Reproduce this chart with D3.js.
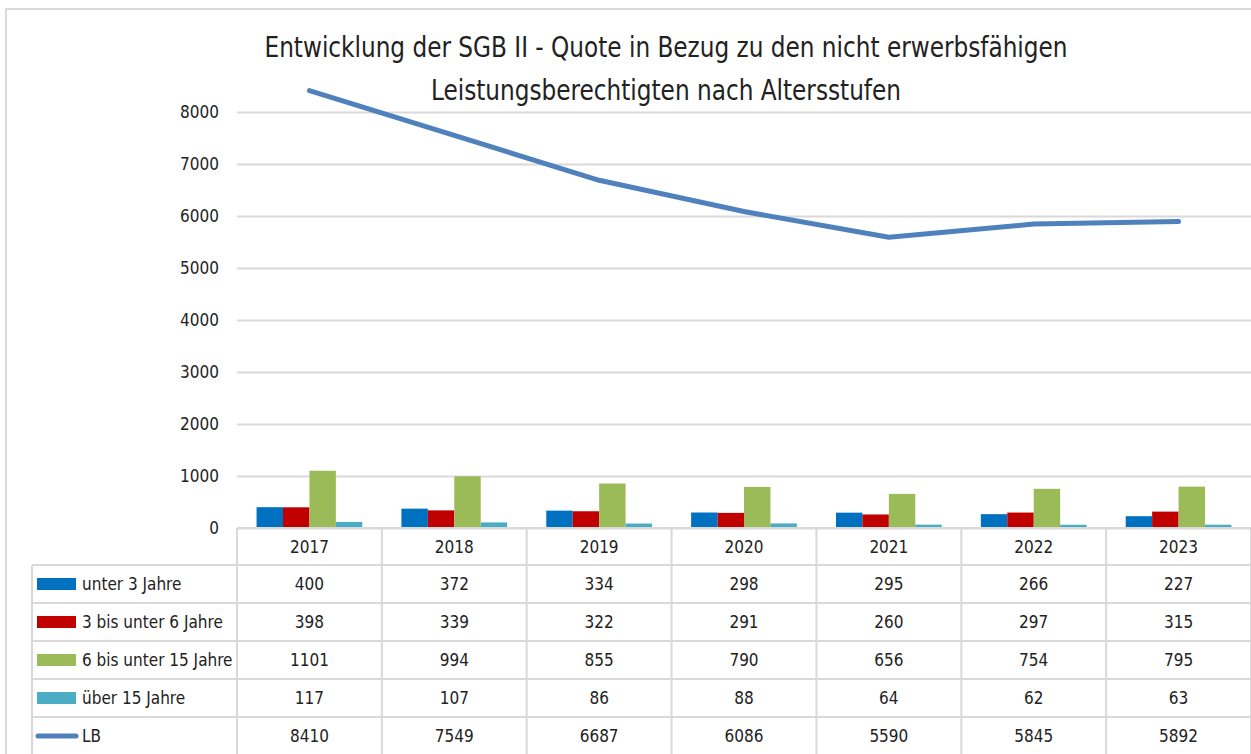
<!DOCTYPE html>
<html lang="de">
<head>
<meta charset="utf-8">
<title>Entwicklung der SGB II - Quote</title>
<script src="https://cdn.jsdelivr.net/npm/d3@7"></script>
<style>
    body { margin: 0; background: #fff; }
    svg text { font-family: "Liberation Sans Narrow", "DejaVu Sans Condensed", sans-serif; fill: #222; }
    .grid line { stroke: #d9d9d9; stroke-width: 2; }
    .grid text { font-size: 17px; }
</style>
</head>
<body>
<script>
// chart values
var years = ["2017", "2018", "2019", "2020", "2021", "2022", "2023"];
var barSeries = ["unter 3 Jahre", "3 bis unter 6 Jahre", "6 bis unter 15 Jahre", "über 15 Jahre"];
var unter3 = [400, 372, 334, 298, 295, 266, 227];
var von3bis6 = [398, 339, 322, 291, 260, 297, 315];
var von6bis15 = [1101, 994, 855, 790, 656, 754, 795];
var ueber15 = [117, 107, 86, 88, 64, 62, 63];
var lb = [8410, 7549, 6687, 6086, 5590, 5845, 5892];
var yTicks = [0, 1000, 2000, 3000, 4000, 5000, 6000, 7000, 8000];

var barColors = ["#0070c0", "#c00000", "#9bbb59", "#4bacc6"];
var lineColor = "#4f81bd";
var barValues = [unter3, von3bis6, von6bis15, ueber15];

var W = 1251, H = 754;
var left = 237, right = 1251, top = 90, baseY = 528;
var rowH = 38, labelX = 32;

var svg = d3.select("body").append("svg")
    .attr("width", W)
    .attr("height", H);

// outer frame
svg.append("rect")
    .attr("x", 6).attr("y", 9)
    .attr("width", W + 10).attr("height", H + 10)
    .attr("fill", "none")
    .attr("stroke", "#d9d9d9")
    .attr("stroke-width", 2);

// scales
var x = d3.scaleBand().domain(years).range([left, right]);
var xInner = d3.scaleBand().domain(d3.range(4))
    .range([0, x.bandwidth()])
    .paddingOuter(0.74).paddingInner(0);
var y = d3.scaleLinear().domain([0, 8000]).range([baseY, baseY - 8000 * 0.052]);

// gridlines + y labels
var yAxis = d3.axisLeft(y)
    .tickValues(yTicks)
    .tickSize(-(right - left))
    .tickPadding(18)
    .tickFormat(d3.format("d"));

svg.append("g")
    .attr("class", "grid")
    .attr("transform", "translate(" + left + ",0)")
    .call(yAxis)
    .call(function(g) { g.select(".domain").remove(); });

// bars
var groups = svg.selectAll("g.year")
    .data(years)
    .enter().append("g")
    .attr("class", "year")
    .attr("transform", function(d) { return "translate(" + x(d) + ",0)"; });

groups.selectAll("rect")
    .data(function(d, i) { return barValues.map(function(s, k) { return { k: k, v: s[i] }; }); })
    .enter().append("rect")
    .attr("x", function(d) { return xInner(d.k); })
    .attr("width", xInner.bandwidth())
    .attr("y", function(d) { return y(d.v); })
    .attr("height", function(d) { return baseY - y(d.v); })
    .attr("fill", function(d) { return barColors[d.k]; });

// LB line
var line = d3.line()
    .x(function(d, i) { return x(years[i]) + x.bandwidth() / 2; })
    .y(function(d) { return y(d); });

svg.append("path")
    .datum(lb)
    .attr("d", line)
    .attr("fill", "none")
    .attr("stroke", lineColor)
    .attr("stroke-width", 5)
    .attr("stroke-linecap", "round")
    .attr("stroke-linejoin", "round");

// data table
var table = svg.append("g").attr("class", "table");
var rows = [
    { name: barSeries[0], vals: unter3, color: barColors[0], type: "bar" },
    { name: barSeries[1], vals: von3bis6, color: barColors[1], type: "bar" },
    { name: barSeries[2], vals: von6bis15, color: barColors[2], type: "bar" },
    { name: barSeries[3], vals: ueber15, color: barColors[3], type: "bar" },
    { name: "LB", vals: lb, color: lineColor, type: "line" }
];
var tableTop = baseY + 37;

// horizontal lines
table.append("line")
    .attr("x1", left).attr("x2", right)
    .attr("y1", baseY).attr("y2", baseY)
    .attr("stroke", "#d9d9d9").attr("stroke-width", 2);
rows.forEach(function(r, i) {
    table.append("line")
        .attr("x1", labelX).attr("x2", right)
        .attr("y1", tableTop + i * rowH).attr("y2", tableTop + i * rowH)
        .attr("stroke", "#d9d9d9").attr("stroke-width", 2);
});
// vertical lines
table.append("line")
    .attr("x1", labelX).attr("x2", labelX)
    .attr("y1", tableTop).attr("y2", H)
    .attr("stroke", "#d9d9d9").attr("stroke-width", 2);
years.concat(["end"]).forEach(function(d) {
    var xx = d === "end" ? right : x(d);
    table.append("line")
        .attr("x1", xx).attr("x2", xx)
        .attr("y1", baseY).attr("y2", H)
        .attr("stroke", "#d9d9d9").attr("stroke-width", 2);
});

// year header
table.selectAll("text.year")
    .data(years)
    .enter().append("text")
    .attr("class", "year")
    .attr("x", function(d) { return x(d) + x.bandwidth() / 2; })
    .attr("y", baseY + 19)
    .attr("dy", "0.35em")
    .attr("text-anchor", "middle")
    .attr("font-size", 17)
    .text(function(d) { return d; });

rows.forEach(function(r, i) {
    var cy = tableTop + i * rowH + rowH / 2;
    if (r.type === "bar") {
        table.append("rect")
            .attr("x", 37).attr("y", cy - 6)
            .attr("width", 39).attr("height", 12)
            .attr("fill", r.color);
    } else {
        table.append("line")
            .attr("x1", 38).attr("x2", 76)
            .attr("y1", cy).attr("y2", cy)
            .attr("stroke", r.color).attr("stroke-width", 5)
            .attr("stroke-linecap", "round");
    }
    table.append("text")
        .attr("x", 82).attr("y", cy)
        .attr("dy", "0.35em")
        .attr("font-size", 17)
        .text(r.name);
    table.selectAll(null)
        .data(r.vals)
        .enter().append("text")
        .attr("x", function(d, j) { return x(years[j]) + x.bandwidth() / 2; })
        .attr("y", cy)
        .attr("dy", "0.35em")
        .attr("text-anchor", "middle")
        .attr("font-size", 17)
        .text(function(d) { return d; });
});

// title
var titleLines = ["Entwicklung der SGB II - Quote in Bezug zu den nicht erwerbsfähigen",
                  "Leistungsberechtigten nach Altersstufen"];
var titleWidths = [803, 470];
svg.selectAll("text.title")
    .data(titleLines)
    .enter().append("text")
    .attr("class", "title")
    .attr("x", 666)
    .attr("y", function(d, i) { return 47 + i * 43; })
    .attr("dy", "0.35em")
    .attr("text-anchor", "middle")
    .attr("font-size", 28)
    .attr("textLength", function(d, i) { return titleWidths[i]; })
    .attr("lengthAdjust", "spacingAndGlyphs")
    .text(function(d) { return d; });
</script>
</body>
</html>
